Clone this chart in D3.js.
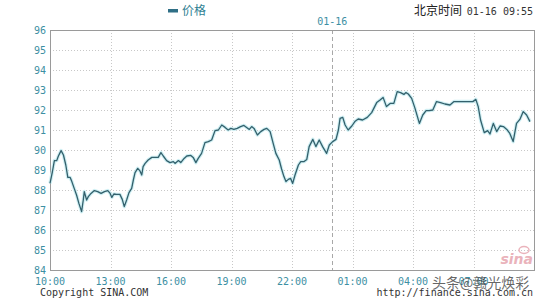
<!DOCTYPE html>
<html>
<head>
<meta charset="utf-8">
<script src="https://cdn.jsdelivr.net/npm/d3@7/dist/d3.min.js"></script>
<style>
  html, body { margin: 0; padding: 0; background: #ffffff; }
  svg { display: block; }
</style>
</head>
<body>
<svg id="chart" width="540" height="300"></svg>
<script>
// ---- data (minutes after 10:00 on 01-15, price) ----
const minutes = [0,7,13,20,25,33,40,47,53,60,65,72,79,86,94,99,102,109,114,122,132,142,152,162,172,179,184,190,198,208,215,221,228,235,243,248,253,261,267,273,277,283,292,303,312,322,330,337,347,357,367,372,382,389,399,407,419,426,434,441,451,461,471,481,491,501,511,521,530,538,547,557,567,577,585,593,600,607,617,627,637,645,655,664,672,682,689,696,702,709,716,722,729,739,746,756,764,771,782,791,801,811,823,831,841,851,858,863,871,878,887,898,907,917,930,944,957,972,982,991,1001,1012,1023,1033,1043,1053,1059,1066,1076,1086,1099,1109,1119,1128,1139,1150,1162,1175,1190,1202,1220,1240,1258,1267,1274,1281,1292,1302,1309,1319,1329,1339,1349,1359,1368,1378,1388,1398,1408,1418,1428];
const prices = [88.33,88.9,89.47,89.47,89.7,89.97,89.75,89.25,88.63,88.63,88.42,88.08,87.75,87.33,86.92,87.5,87.92,87.5,87.67,87.83,87.97,87.92,87.83,87.92,87.97,87.83,87.63,87.8,87.78,87.78,87.53,87.17,87.5,87.87,88.08,88.5,88.87,89.08,88.97,88.75,89.17,89.33,89.5,89.63,89.63,89.63,89.87,89.7,89.47,89.37,89.42,89.33,89.47,89.37,89.58,89.7,89.73,89.63,89.37,89.58,89.83,90.37,90.42,90.5,90.97,91.0,91.25,91.13,91.0,91.08,91.03,91.08,91.17,91.23,91.13,91.03,91.17,91.08,90.75,90.92,91.03,91.08,90.92,90.33,89.83,89.5,89.05,88.67,88.42,88.53,88.58,88.33,88.75,89.25,89.42,89.42,89.53,90.17,90.53,90.17,90.5,90.17,89.83,90.25,90.42,90.53,91.0,91.58,91.63,91.25,91.0,91.2,91.42,91.55,91.5,91.63,91.87,92.37,92.5,92.63,92.17,92.33,92.33,92.92,92.87,92.78,92.87,92.8,92.58,92.08,91.33,91.75,91.97,91.97,92.0,92.42,92.37,92.3,92.25,92.42,92.42,92.42,92.42,92.53,92.17,91.5,90.87,90.97,90.8,91.33,90.92,91.2,91.17,91.03,90.83,90.42,91.33,91.53,91.92,91.75,91.42];
const yTicks = [84,85,86,87,88,89,90,91,92,93,94,95,96];
const xTickLabels = ["10:00","13:00","16:00","19:00","22:00","01:00","04:00","07:00"];
const seriesName = "价格";
const dayLabel = "01-16";
const headerTime = "01-16 09:55";

// ---- layout ----
const svg = d3.select("#chart");
const L = 50, R = 534, T = 30, B = 270;
const start = new Date(2019, 0, 15, 10, 0);
const end = new Date(2019, 0, 16, 10, 0);
const midnight = new Date(2019, 0, 16, 0, 0);
const toDate = m => new Date(start.getTime() + m * 60000);

const x = d3.scaleTime().domain([start, end]).range([L, R]);
const y = d3.scaleLinear().domain([84, 96]).range([B, T]);

const data = minutes.map((m, i) => ({ t: toDate(m), v: prices[i] }));
const xTicks = xTickLabels.map((lab, i) => new Date(start.getTime() + i * 3 * 3600000));

// grid
const grid = svg.append("g");
grid.selectAll("line.h").data(yTicks.filter(d => d > 84 && d < 96)).join("line")
  .attr("x1", L).attr("x2", R)
  .attr("y1", d => Math.round(y(d)) + 0.5).attr("y2", d => Math.round(y(d)) + 0.5)
  .attr("stroke", "#c8c8c8").attr("stroke-width", 1).attr("stroke-dasharray", "1,2");
grid.selectAll("line.v").data(xTicks.slice(1)).join("line")
  .attr("x1", d => Math.round(x(d)) + 0.5).attr("x2", d => Math.round(x(d)) + 0.5)
  .attr("y1", T).attr("y2", B)
  .attr("stroke", "#c8c8c8").attr("stroke-width", 1).attr("stroke-dasharray", "1,2");

// midnight divider
svg.append("line")
  .attr("x1", Math.round(x(midnight)) + 0.5).attr("x2", Math.round(x(midnight)) + 0.5)
  .attr("y1", T).attr("y2", B)
  .attr("stroke", "#a8a8a8").attr("stroke-width", 1).attr("stroke-dasharray", "4,3");
svg.append("text").attr("x", x(midnight)).attr("y", 25)
  .attr("text-anchor", "middle").attr("font-family", "DejaVu Sans Mono")
  .attr("font-size", 10).attr("fill", "#3d8fa3").text(dayLabel);

// sina logo watermark
svg.append("text").attr("x", 533).attr("y", 264).attr("text-anchor", "end")
  .attr("font-family", "DejaVu Sans").attr("font-weight", "bold").attr("font-style", "italic")
  .attr("font-size", 14).attr("fill", "#eab3bb").text("sina");
svg.append("ellipse").attr("cx", 524).attr("cy", 250).attr("rx", 5).attr("ry", 3.5)
  .attr("fill", "none").attr("stroke", "#eab3bb").attr("stroke-width", 1.5);

// frame
svg.append("rect").attr("x", L + 0.5).attr("y", T + 0.5)
  .attr("width", R - L).attr("height", B - T)
  .attr("fill", "none").attr("stroke", "#9a9a9a").attr("stroke-width", 1);

// line
const line = d3.line().x(d => x(d.t)).y(d => y(d.v));
svg.append("path").datum(data).attr("d", line)
  .attr("fill", "none").attr("stroke", "#cfeff3").attr("stroke-width", 3.5)
  .attr("stroke-linejoin", "round");
svg.append("path").datum(data).attr("d", line)
  .attr("fill", "none").attr("stroke", "#33606c").attr("stroke-width", 1.3)
  .attr("stroke-linejoin", "round");

// y labels
svg.append("g").selectAll("text").data(yTicks).join("text")
  .attr("x", 46).attr("y", d => y(d) + 3.5).attr("text-anchor", "end")
  .attr("font-family", "DejaVu Sans Mono").attr("font-size", 10)
  .attr("fill", "#3d8fa3").text(d => d);

// x labels
svg.append("g").selectAll("text").data(xTicks).join("text")
  .attr("x", d => x(d)).attr("y", 285).attr("text-anchor", "middle")
  .attr("font-family", "DejaVu Sans Mono").attr("font-size", 10)
  .attr("fill", "#3d8fa3").text((d, i) => xTickLabels[i]);

// legend
svg.append("rect").attr("x", 168).attr("y", 9).attr("width", 10).attr("height", 3.5).attr("fill", "#2f6f86");
svg.append("text").attr("x", 182).attr("y", 15).attr("font-family", "Noto Sans CJK SC")
  .attr("font-size", 12).attr("fill", "#2f7f93").text(seriesName);

// header time
svg.append("text").attr("x", 414).attr("y", 15).attr("font-family", "Noto Sans CJK SC")
  .attr("font-size", 12).attr("fill", "#222").text("北京时间");
svg.append("text").attr("x", 533).attr("y", 15).attr("text-anchor", "end")
  .attr("font-family", "DejaVu Sans Mono").attr("font-size", 10).attr("fill", "#333").text(headerTime);

// footer
svg.append("text").attr("x", 40).attr("y", 296).attr("font-family", "DejaVu Sans Mono")
  .attr("font-size", 10).attr("fill", "#333").text("Copyright  SINA.COM");
svg.append("text").attr("x", 533).attr("y", 296).attr("text-anchor", "end")
  .attr("font-family", "DejaVu Sans Mono").attr("font-size", 10).attr("fill", "#333").text("http://finance.sina.com.cn");
svg.append("text").attr("x", 432).attr("y", 288).attr("font-family", "Noto Sans CJK SC")
  .attr("font-size", 14).attr("fill", "#333").attr("fill-opacity", 0.75).text("头条@赣光焕彩");
</script>
</body>
</html>
